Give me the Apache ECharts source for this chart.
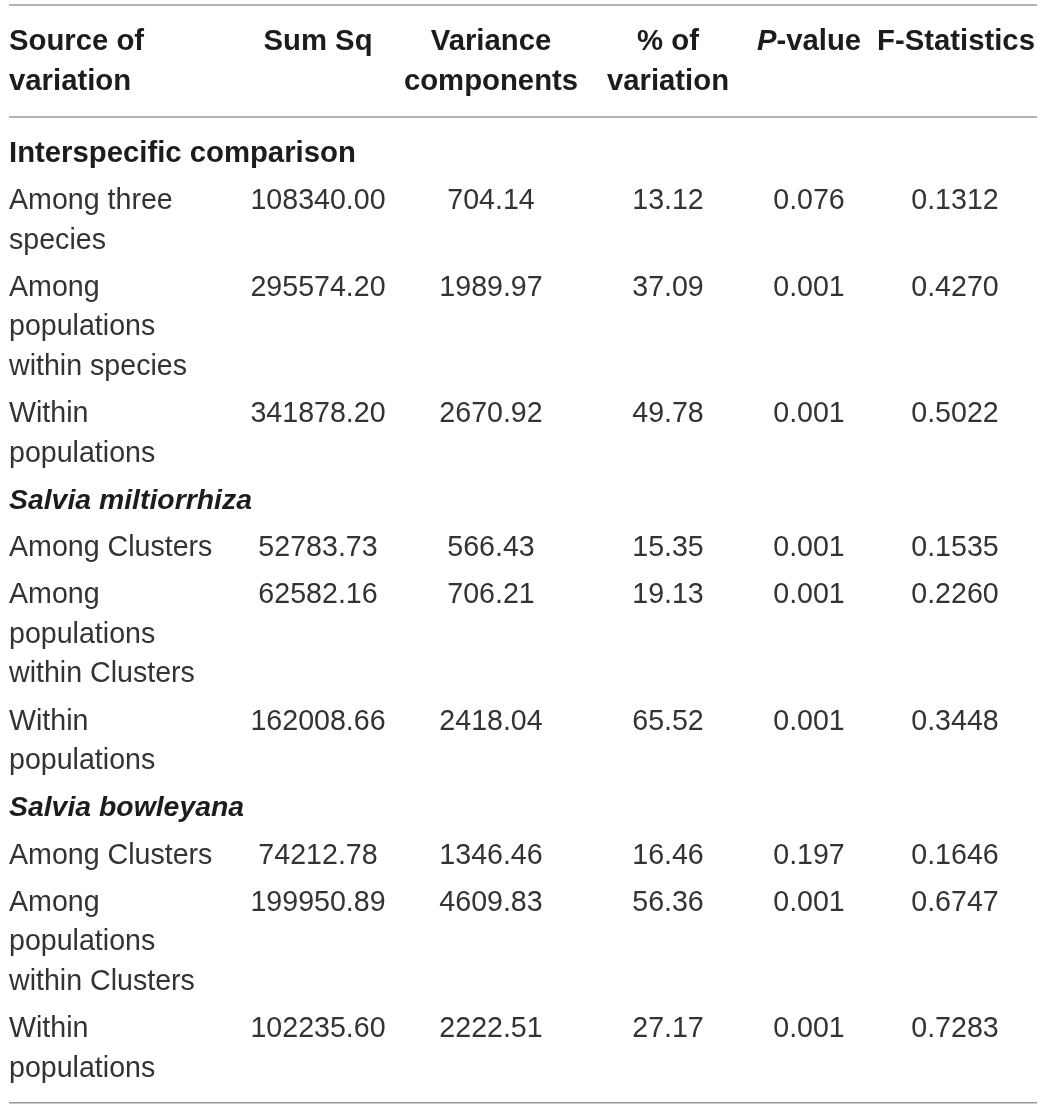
<!DOCTYPE html>
<html>
<head>
<meta charset="utf-8">
<title>AMOVA table</title>
<script src="https://cdn.jsdelivr.net/npm/echarts@6/dist/echarts.min.js"></script>
<style>
  html, body { margin: 0; padding: 0; background: #fff; }
  #chart { width: 1043px; height: 1108px; }
</style>
</head>
<body>
<div id="chart"></div>
<script>
// ---------- Data ----------
var headers = ['Source of\nvariation', 'Sum Sq', 'Variance\ncomponents', '% of\nvariation', '{i|P}{b|-value}', 'F-Statistics'];
var sections = ['Interspecific comparison', 'Salvia miltiorrhiza', 'Salvia bowleyana'];
var sectionItalic = [false, true, true];

var sources = [
  ['Among three\nspecies', 'Among\npopulations\nwithin species', 'Within\npopulations'],
  ['Among Clusters', 'Among\npopulations\nwithin Clusters', 'Within\npopulations'],
  ['Among Clusters', 'Among\npopulations\nwithin Clusters', 'Within\npopulations']
];
var sumSq = [
  [108340.00, 295574.20, 341878.20],
  [52783.73, 62582.16, 162008.66],
  [74212.78, 199950.89, 102235.60]
];
var varComp = [
  [704.14, 1989.97, 2670.92],
  [566.43, 706.21, 2418.04],
  [1346.46, 4609.83, 2222.51]
];
var pctVar = [
  [13.12, 37.09, 49.78],
  [15.35, 19.13, 65.52],
  [16.46, 56.36, 27.17]
];
var pValue = [
  [0.076, 0.001, 0.001],
  [0.001, 0.001, 0.001],
  [0.197, 0.001, 0.001]
];
var fStat = [
  [0.1312, 0.4270, 0.5022],
  [0.1535, 0.2260, 0.3448],
  [0.1646, 0.6747, 0.7283]
];
var decimals = [2, 2, 2, 3, 4];

// ---------- Layout ----------
var W = 1043, H = 1108;
var colX = [9, 318, 491, 668, 809, 955];
var headX = [9, 318, 491, 668, 809, 956];
var ruleX0 = 9, ruleX1 = 1037;
var ruleTopY = 5, ruleHeadY = 117;
var headLineY = 42;
var firstSectionY = 154;
var lineH = 39.5;
var rowGap = 47.25;
var bottomPad = 34;

var FONT = "'Liberation Sans', Arial, Helvetica, sans-serif";
var FS = 28.6;
var FS_BOLD = 29.3;
var FS_ITALIC = 28.4;
var BODY_COLOR = '#333333';
var HEAD_COLOR = '#1c1c1c';
var RULE_COLOR = '#9a9a9a';

// Build text cells from the data arrays
var cells = [];

function addLines(text, x, y, kind, align) {
  text.split('\n').forEach(function (t, i) {
    cells.push({ value: [x, y + i * lineH], text: t, kind: kind, align: align });
  });
}

headers.forEach(function (h, c) {
  if (c === 4) {
    cells.push({ value: [headX[c], headLineY], text: h, kind: 'rich', align: 'center' });
  } else {
    addLines(h, headX[c], headLineY, 'head', c === 0 ? 'left' : 'center');
  }
});

var y = firstSectionY;
var cols = [sumSq, varComp, pctVar, pValue, fStat];
sections.forEach(function (s, si) {
  cells.push({ value: [colX[0], y], text: s, kind: sectionItalic[si] ? 'sectionI' : 'section', align: 'left' });
  var last = y;
  sources[si].forEach(function (label, ri) {
    var rowY = last + rowGap;
    addLines(label, colX[0], rowY, 'body', 'left');
    cols.forEach(function (arr, ci) {
      cells.push({ value: [colX[ci + 1], rowY], text: arr[si][ri].toFixed(decimals[ci]), kind: 'body', align: 'center' });
    });
    last = rowY + (label.split('\n').length - 1) * lineH;
  });
  y = last + rowGap;
});
var ruleBottomY = y - rowGap + bottomPad;

var rules = [[ruleX0, ruleTopY, ruleX1], [ruleX0, ruleHeadY, ruleX1], [ruleX0, ruleBottomY, ruleX1]];

function textStyle(d) {
  var st = {
    text: d.text,
    fontFamily: FONT,
    fontSize: FS,
    fill: BODY_COLOR,
    align: d.align,
    verticalAlign: 'middle'
  };
  if (d.kind === 'head' || d.kind === 'section' || d.kind === 'sectionI' || d.kind === 'rich') {
    st.fontWeight = 'bold';
    st.fontSize = FS_BOLD;
    st.fill = HEAD_COLOR;
  }
  if (d.kind === 'sectionI') {
    st.fontStyle = 'italic';
    st.fontSize = FS_ITALIC;
  }
  if (d.kind === 'rich') {
    st.rich = {
      i: { fontFamily: FONT, fontSize: FS_BOLD, fontWeight: 'bold', fontStyle: 'italic', fill: HEAD_COLOR },
      b: { fontFamily: FONT, fontSize: FS_BOLD, fontWeight: 'bold', fill: HEAD_COLOR }
    };
  }
  return st;
}

var chart = echarts.init(document.getElementById('chart'), null, { renderer: 'canvas' });
chart.setOption({
  animation: false,
  backgroundColor: '#ffffff',
  grid: { left: 0, right: 0, top: 0, bottom: 0 },
  xAxis: { type: 'value', min: 0, max: W, show: false },
  yAxis: { type: 'value', min: 0, max: H, inverse: true, show: false },
  series: [
    {
      type: 'custom',
      silent: true,
      clip: false,
      data: rules,
      renderItem: function (params, api) {
        var a = api.coord([api.value(0), api.value(1)]);
        var b = api.coord([api.value(2), api.value(1)]);
        return {
          type: 'line',
          shape: { x1: a[0], y1: a[1], x2: b[0], y2: b[1] },
          style: { stroke: RULE_COLOR, lineWidth: 1.5 }
        };
      }
    },
    {
      type: 'custom',
      silent: true,
      clip: false,
      data: cells.map(function (c) { return c.value; }),
      renderItem: function (params, api) {
        var p = api.coord([api.value(0), api.value(1)]);
        return {
          type: 'text',
          x: p[0],
          y: p[1],
          style: textStyle(cells[params.dataIndex])
        };
      }
    }
  ]
});
</script>
</body>
</html>
